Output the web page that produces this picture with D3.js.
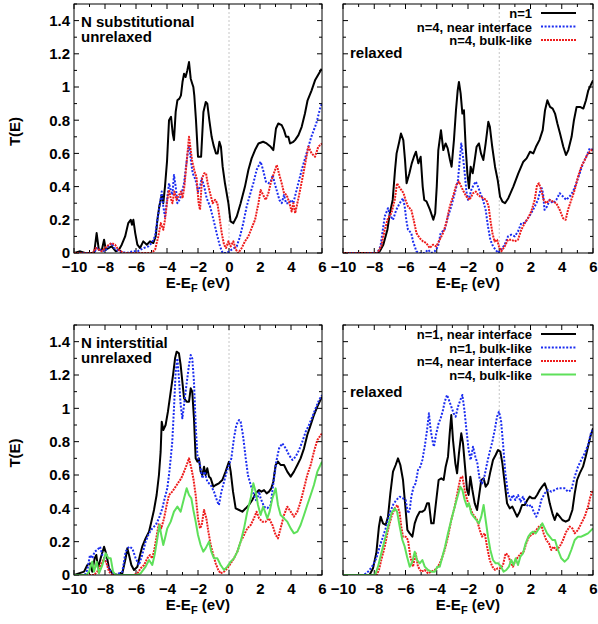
<!DOCTYPE html>
<html>
<head>
<meta charset="utf-8">
<script src="https://cdn.jsdelivr.net/npm/d3@7"></script>
<style>
  body { margin: 0; background: #fff; }
  text { font-family: "Liberation Sans", Arial, sans-serif; font-weight: bold; }
</style>
</head>
<body>
<svg id="chart" width="598" height="624"></svg>
<script>
// ---- data: [E - E_F (eV), T(E)] ----
const subUnrelN1 = [[-10,0],[-9.6,0.01],[-9.3,0],[-8.7,0],[-8.54,0.12],[-8.4,0.02],[-8.2,0.02],[-8.06,0.08],[-7.95,0.02],[-7.57,0.04],[-7.3,0.01],[-7.1,0.02],[-6.92,0.05],[-6.7,0.1],[-6.5,0.18],[-6.34,0.2],[-6.26,0.17],[-6.17,0.2],[-6.05,0.12],[-5.91,0.05],[-5.74,0.03],[-5.53,0.07],[-5.3,0.05],[-5.1,0.07],[-4.88,0.06],[-4.73,0.1],[-4.62,0.2],[-4.5,0.28],[-4.34,0.35],[-4.24,0.3],[-4.13,0.4],[-4.0,0.55],[-3.87,0.8],[-3.74,0.82],[-3.63,0.72],[-3.55,0.68],[-3.44,0.85],[-3.33,0.92],[-3.2,0.93],[-3.1,0.95],[-3.0,1.03],[-2.9,1.08],[-2.8,1.06],[-2.69,1.1],[-2.58,1.15],[-2.47,1.05],[-2.37,1.02],[-2.3,1.0],[-2.24,0.95],[-2.13,0.8],[-2.0,0.58],[-1.8,0.58],[-1.65,0.85],[-1.5,0.91],[-1.4,0.9],[-1.27,0.8],[-1.12,0.7],[-1.0,0.65],[-0.84,0.6],[-0.73,0.6],[-0.62,0.67],[-0.52,0.64],[-0.41,0.52],[-0.26,0.42],[-0.04,0.3],[0.1,0.19],[0.28,0.18],[0.5,0.22],[0.75,0.3],[1.03,0.4],[1.25,0.5],[1.46,0.57],[1.68,0.62],[1.9,0.66],[2.2,0.67],[2.43,0.66],[2.69,0.64],[2.86,0.62],[3.03,0.75],[3.18,0.78],[3.4,0.77],[3.55,0.74],[3.68,0.7],[3.83,0.7],[3.94,0.66],[4.15,0.67],[4.26,0.68],[4.48,0.71],[4.69,0.76],[4.9,0.84],[5.07,0.92],[5.33,0.98],[5.55,1.04],[5.98,1.11]];
const subUnrelN4Int = [[-10,0],[-8.7,0],[-8.54,0.03],[-8.35,0.02],[-8.0,0.01],[-7.68,0.05],[-7.57,0.06],[-7.4,0.03],[-7.1,0.01],[-6.6,0],[-6.2,0.01],[-5.9,0.01],[-5.5,0.03],[-5.2,0.04],[-5.0,0.06],[-4.77,0.1],[-4.62,0.2],[-4.45,0.3],[-4.34,0.37],[-4.24,0.28],[-4.13,0.22],[-4.02,0.3],[-3.87,0.42],[-3.76,0.38],[-3.65,0.35],[-3.55,0.47],[-3.44,0.4],[-3.33,0.3],[-3.2,0.32],[-3.05,0.36],[-2.9,0.42],[-2.8,0.5],[-2.67,0.6],[-2.56,0.65],[-2.45,0.55],[-2.34,0.48],[-2.2,0.45],[-2.1,0.42],[-2.0,0.37],[-1.87,0.4],[-1.76,0.45],[-1.6,0.4],[-1.44,0.33],[-1.22,0.28],[-1.0,0.2],[-0.8,0.12],[-0.58,0.04],[-0.41,0],[-0.15,0],[0.17,0.02],[0.5,0.04],[0.71,0.1],[0.92,0.18],[1.14,0.28],[1.35,0.35],[1.57,0.42],[1.78,0.5],[2.04,0.55],[2.2,0.5],[2.38,0.43],[2.54,0.42],[2.69,0.43],[2.82,0.47],[2.95,0.42],[3.1,0.37],[3.25,0.32],[3.4,0.3],[3.55,0.35],[3.68,0.3],[3.83,0.3],[4.04,0.32],[4.15,0.3],[4.36,0.38],[4.69,0.5],[5.0,0.6],[5.31,0.7],[5.63,0.78],[5.9,0.88],[6,0.9]];
const subUnrelN4Bulk = [[-10,0],[-8.8,0],[-8.6,0.03],[-8.4,0.02],[-8.2,0.01],[-7.9,0.04],[-7.57,0.06],[-7.35,0.05],[-7.14,0.02],[-6.8,0],[-5.0,0],[-4.77,0.02],[-4.56,0.1],[-4.4,0.18],[-4.24,0.14],[-4.13,0.2],[-3.98,0.32],[-3.87,0.38],[-3.76,0.33],[-3.65,0.3],[-3.53,0.37],[-3.38,0.32],[-3.22,0.35],[-3.1,0.37],[-3.0,0.33],[-2.88,0.4],[-2.73,0.55],[-2.58,0.7],[-2.47,0.62],[-2.37,0.55],[-2.24,0.5],[-2.09,0.45],[-1.96,0.3],[-1.87,0.26],[-1.74,0.45],[-1.6,0.48],[-1.48,0.48],[-1.38,0.42],[-1.22,0.36],[-1.05,0.3],[-0.9,0.32],[-0.75,0.3],[-0.62,0.22],[-0.47,0.12],[-0.32,0.05],[-0.19,0.03],[-0.04,0.07],[0.11,0.04],[0.28,0.07],[0.45,0.02],[0.6,0],[0.82,0.03],[1.03,0.07],[1.25,0.1],[1.46,0.15],[1.68,0.2],[1.9,0.3],[2.04,0.38],[2.2,0.35],[2.37,0.32],[2.54,0.36],[2.69,0.42],[2.86,0.47],[3.08,0.53],[3.25,0.47],[3.4,0.42],[3.55,0.36],[3.72,0.35],[3.9,0.3],[4.04,0.25],[4.15,0.3],[4.27,0.24],[4.48,0.33],[4.8,0.48],[5.12,0.64],[5.33,0.6],[5.55,0.58],[5.76,0.64],[6,0.66]];

const subRelN1 = [[-10,0],[-7.8,0],[-7.65,0.01],[-7.42,0.05],[-7.16,0.14],[-7.0,0.24],[-6.82,0.32],[-6.67,0.5],[-6.57,0.6],[-6.4,0.67],[-6.29,0.72],[-6.14,0.68],[-6.03,0.56],[-5.93,0.42],[-5.75,0.48],[-5.6,0.54],[-5.46,0.58],[-5.33,0.61],[-5.18,0.54],[-5.03,0.58],[-4.9,0.4],[-4.8,0.32],[-4.65,0.31],[-4.43,0.26],[-4.22,0.2],[-4.1,0.24],[-4.0,0.4],[-3.9,0.62],[-3.73,0.74],[-3.58,0.62],[-3.43,0.66],[-3.3,0.63],[-3.15,0.56],[-3.05,0.52],[-2.9,0.68],[-2.77,0.86],[-2.66,0.98],[-2.58,1.03],[-2.47,0.96],[-2.36,0.84],[-2.26,0.86],[-2.15,0.64],[-2.04,0.48],[-1.94,0.39],[-1.83,0.52],[-1.7,0.48],[-1.6,0.54],[-1.45,0.64],[-1.3,0.66],[-1.17,0.6],[-1.02,0.56],[-0.87,0.66],[-0.7,0.79],[-0.6,0.76],[-0.45,0.64],[-0.27,0.52],[-0.1,0.44],[0.05,0.34],[0.2,0.31],[0.37,0.3],[0.58,0.33],[0.9,0.4],[1.22,0.48],[1.54,0.55],[1.75,0.57],[1.97,0.61],[2.18,0.6],[2.35,0.64],[2.57,0.68],[2.78,0.74],[2.93,0.86],[3.08,0.92],[3.25,0.88],[3.42,0.87],[3.57,0.84],[3.72,0.78],[3.89,0.72],[4.1,0.64],[4.27,0.59],[4.42,0.62],[4.63,0.7],[4.78,0.8],[4.95,0.88],[5.17,0.88],[5.38,0.87],[5.55,0.92],[5.7,0.98],[5.9,1.02],[6,1.04]];
const subRelN4Int = [[-10,0],[-7.8,0],[-7.6,0.04],[-7.45,0.14],[-7.33,0.22],[-7.12,0.27],[-7.0,0.23],[-6.8,0.2],[-6.59,0.26],[-6.37,0.3],[-6.16,0.33],[-6.05,0.28],[-5.95,0.2],[-5.84,0.14],[-5.63,0.12],[-5.52,0.07],[-5.3,0.01],[-5.1,0],[-4.77,0],[-4.56,0.02],[-4.35,0],[-4.13,0.01],[-3.92,0.04],[-3.75,0.12],[-3.5,0.14],[-3.28,0.22],[-3.07,0.28],[-2.85,0.36],[-2.64,0.44],[-2.53,0.56],[-2.43,0.66],[-2.32,0.58],[-2.21,0.48],[-2.1,0.37],[-2.0,0.32],[-1.9,0.34],[-1.79,0.38],[-1.64,0.41],[-1.5,0.43],[-1.36,0.4],[-1.21,0.36],[-1.04,0.32],[-0.87,0.26],[-0.72,0.16],[-0.57,0.08],[-0.4,0.04],[-0.23,0.02],[-0.08,0],[0.13,0.02],[0.35,0.05],[0.56,0.1],[0.77,0.11],[0.99,0.1],[1.2,0.13],[1.41,0.18],[1.63,0.18],[1.84,0.21],[2.05,0.24],[2.27,0.28],[2.48,0.32],[2.69,0.4],[2.8,0.36],[2.9,0.26],[3.06,0.28],[3.23,0.32],[3.44,0.3],[3.65,0.32],[3.87,0.36],[4.08,0.34],[4.29,0.32],[4.5,0.34],[4.72,0.37],[4.93,0.42],[5.15,0.48],[5.36,0.54],[5.57,0.58],[5.79,0.63],[6,0.62]];
const subRelN4Bulk = [[-10,0],[-7.8,0],[-7.55,0.04],[-7.33,0.14],[-7.12,0.21],[-6.9,0.24],[-6.69,0.32],[-6.54,0.42],[-6.42,0.4],[-6.27,0.38],[-6.12,0.36],[-6.0,0.32],[-5.84,0.28],[-5.63,0.26],[-5.48,0.2],[-5.3,0.12],[-5.1,0.09],[-4.88,0.07],[-4.67,0.06],[-4.45,0.03],[-4.24,0.05],[-4.03,0.04],[-3.81,0.08],[-3.6,0.12],[-3.39,0.18],[-3.17,0.28],[-2.96,0.34],[-2.75,0.41],[-2.58,0.43],[-2.43,0.4],[-2.28,0.37],[-2.1,0.34],[-1.9,0.32],[-1.68,0.36],[-1.5,0.37],[-1.36,0.35],[-1.21,0.34],[-1.04,0.33],[-0.83,0.32],[-0.68,0.28],[-0.57,0.2],[-0.44,0.12],[-0.3,0.07],[-0.14,0.08],[-0.02,0.04],[0.13,0.01],[0.35,0.04],[0.56,0.08],[0.77,0.08],[0.99,0.07],[1.2,0.08],[1.41,0.14],[1.63,0.18],[1.84,0.21],[2.05,0.25],[2.27,0.32],[2.42,0.41],[2.54,0.42],[2.69,0.38],[2.84,0.32],[3.01,0.3],[3.23,0.32],[3.44,0.31],[3.65,0.3],[3.87,0.26],[4.08,0.21],[4.25,0.2],[4.4,0.26],[4.61,0.32],[4.83,0.38],[5.04,0.46],[5.25,0.52],[5.47,0.56],[5.68,0.6],[5.9,0.62],[6,0.63]];

const intUnrelN1Int = [[-10,0],[-9.35,0.02],[-9.14,0.06],[-8.97,0.07],[-8.82,0.02],[-8.67,0.1],[-8.56,0.12],[-8.45,0.04],[-8.28,0.1],[-8.06,0.17],[-7.9,0.12],[-7.74,0.04],[-7.53,0.01],[-7.2,0],[-6.88,0.01],[-6.67,0.1],[-6.56,0.16],[-6.45,0.12],[-6.3,0.06],[-6.13,0.03],[-5.91,0.05],[-5.74,0.12],[-5.6,0.17],[-5.38,0.22],[-5.16,0.26],[-5.01,0.32],[-4.84,0.39],[-4.67,0.48],[-4.52,0.6],[-4.41,0.74],[-4.34,0.92],[-4.24,0.87],[-4.09,0.9],[-3.94,0.98],[-3.76,1.1],[-3.61,1.2],[-3.48,1.3],[-3.38,1.34],[-3.23,1.33],[-3.12,1.26],[-3.01,1.16],[-2.9,1.06],[-2.73,1.04],[-2.58,1.04],[-2.47,1.12],[-2.37,1.1],[-2.26,0.94],[-2.15,0.7],[-2.04,0.68],[-1.94,0.7],[-1.83,0.62],[-1.72,0.6],[-1.61,0.65],[-1.51,0.6],[-1.4,0.64],[-1.29,0.59],[-1.18,0.58],[-1.01,0.53],[-0.86,0.54],[-0.65,0.55],[-0.43,0.57],[-0.22,0.62],[0,0.68],[0.11,0.62],[0.26,0.5],[0.43,0.4],[0.65,0.39],[0.86,0.38],[1.08,0.4],[1.29,0.42],[1.5,0.45],[1.72,0.49],[1.94,0.51],[2.09,0.5],[2.26,0.51],[2.43,0.49],[2.58,0.5],[2.73,0.52],[2.86,0.56],[3.01,0.66],[3.16,0.68],[3.33,0.66],[3.55,0.66],[3.76,0.62],[3.98,0.59],[4.19,0.62],[4.41,0.66],[4.62,0.7],[4.84,0.76],[5.05,0.84],[5.27,0.9],[5.48,0.96],[5.7,1.01],[6,1.07]];
const intUnrelN1Bulk = [[-10,0],[-9.3,0],[-9.14,0.03],[-8.97,0.12],[-8.82,0.1],[-8.67,0.14],[-8.5,0.15],[-8.32,0.17],[-8.17,0.12],[-8.02,0.1],[-7.85,0.06],[-7.63,0.02],[-7.31,0],[-6.88,0.02],[-6.67,0.14],[-6.45,0.17],[-6.24,0.16],[-6.02,0.1],[-5.81,0.06],[-5.6,0.12],[-5.38,0.2],[-5.16,0.25],[-4.95,0.28],[-4.73,0.3],[-4.52,0.34],[-4.3,0.4],[-4.15,0.46],[-3.98,0.52],[-3.87,0.6],[-3.76,0.7],[-3.66,0.8],[-3.55,1.0],[-3.44,1.22],[-3.33,1.3],[-3.23,1.18],[-3.12,1.02],[-3.01,0.94],[-2.9,1.02],[-2.8,1.1],[-2.69,1.18],[-2.58,1.26],[-2.47,1.32],[-2.37,1.3],[-2.26,1.16],[-2.15,0.9],[-2.04,0.72],[-1.87,0.66],[-1.72,0.58],[-1.57,0.62],[-1.4,0.56],[-1.18,0.54],[-0.97,0.5],[-0.75,0.44],[-0.65,0.42],[-0.49,0.5],[-0.32,0.56],[-0.15,0.62],[0,0.66],[0.15,0.7],[0.32,0.82],[0.47,0.9],[0.65,0.93],[0.75,0.92],[0.9,0.84],[1.08,0.7],[1.22,0.6],[1.4,0.54],[1.61,0.48],[1.78,0.44],[1.94,0.5],[2.04,0.46],[2.26,0.41],[2.47,0.4],[2.69,0.42],[2.9,0.58],[3.05,0.68],[3.23,0.76],[3.44,0.79],[3.66,0.76],[3.87,0.72],[4.09,0.69],[4.3,0.71],[4.52,0.75],[4.73,0.8],[4.95,0.86],[5.16,0.9],[5.38,0.95],[5.59,1.0],[5.81,1.05],[6,1.08]];
const intUnrelN4Int = [[-10,0],[-8.7,0],[-8.5,0.02],[-8.28,0.06],[-8.06,0.1],[-7.9,0.07],[-7.74,0.02],[-7.53,0],[-6.13,0],[-5.91,0.01],[-5.7,0.04],[-5.48,0.06],[-5.27,0.1],[-5.1,0.12],[-4.95,0.1],[-4.8,0.16],[-4.62,0.26],[-4.52,0.31],[-4.37,0.28],[-4.19,0.34],[-4.02,0.42],[-3.87,0.48],[-3.66,0.5],[-3.44,0.53],[-3.23,0.56],[-3.08,0.58],[-2.9,0.62],[-2.73,0.66],[-2.58,0.7],[-2.43,0.64],[-2.3,0.58],[-2.15,0.48],[-2.0,0.34],[-1.87,0.28],[-1.76,0.3],[-1.61,0.39],[-1.46,0.34],[-1.33,0.26],[-1.18,0.18],[-1.01,0.12],[-0.86,0.07],[-0.69,0.03],[-0.54,0.01],[-0.32,0.02],[-0.11,0.04],[0.11,0.07],[0.32,0.1],[0.54,0.14],[0.75,0.2],[0.97,0.24],[1.18,0.28],[1.4,0.3],[1.61,0.34],[1.78,0.38],[1.94,0.34],[2.15,0.32],[2.37,0.32],[2.58,0.34],[2.8,0.3],[3.01,0.24],[3.16,0.22],[3.33,0.28],[3.55,0.36],[3.76,0.41],[3.98,0.38],[4.19,0.35],[4.41,0.38],[4.62,0.44],[4.84,0.52],[5.05,0.6],[5.27,0.66],[5.48,0.74],[5.7,0.81],[6,0.85]];
const intUnrelN4Bulk = [[-10,0],[-9.2,0],[-9.03,0.02],[-8.82,0.08],[-8.71,0.02],[-8.54,0.08],[-8.39,0.01],[-8.17,0.06],[-7.96,0.13],[-7.78,0.1],[-7.63,0.1],[-7.48,0.02],[-7.31,0],[-5.9,0],[-5.7,0.01],[-5.38,0.05],[-5.16,0.09],[-4.95,0.06],[-4.8,0.12],[-4.62,0.22],[-4.49,0.3],[-4.37,0.24],[-4.24,0.18],[-4.13,0.22],[-3.98,0.28],[-3.76,0.32],[-3.55,0.38],[-3.33,0.41],[-3.12,0.38],[-2.9,0.46],[-2.73,0.52],[-2.58,0.48],[-2.43,0.46],[-2.3,0.39],[-2.15,0.32],[-2.0,0.24],[-1.83,0.18],[-1.66,0.14],[-1.51,0.16],[-1.29,0.2],[-1.14,0.14],[-0.97,0.1],[-0.75,0.1],[-0.54,0.06],[-0.32,0.03],[-0.11,0.05],[0.11,0.08],[0.32,0.1],[0.54,0.14],[0.75,0.2],[0.97,0.28],[1.18,0.38],[1.4,0.46],[1.57,0.55],[1.72,0.5],[1.87,0.42],[2.04,0.36],[2.2,0.41],[2.32,0.38],[2.47,0.34],[2.62,0.38],[2.8,0.46],[3.01,0.52],[3.16,0.42],[3.33,0.36],[3.55,0.34],[3.76,0.32],[3.98,0.28],[4.19,0.25],[4.41,0.26],[4.62,0.3],[4.84,0.36],[5.05,0.42],[5.27,0.48],[5.48,0.54],[5.7,0.62],[6,0.68]];

const intRelN1Int = [[-10,0],[-8.3,0],[-8.08,0.04],[-7.87,0.13],[-7.7,0.29],[-7.59,0.35],[-7.44,0.31],[-7.27,0.3],[-7.12,0.35],[-6.97,0.49],[-6.8,0.62],[-6.63,0.66],[-6.48,0.7],[-6.33,0.66],[-6.16,0.57],[-6.01,0.41],[-5.88,0.27],[-5.73,0.25],[-5.56,0.23],[-5.41,0.31],[-5.26,0.35],[-5.09,0.38],[-4.92,0.38],[-4.77,0.39],[-4.62,0.43],[-4.5,0.43],[-4.35,0.31],[-4.2,0.31],[-4.03,0.45],[-3.88,0.57],[-3.71,0.58],[-3.56,0.57],[-3.43,0.65],[-3.28,0.71],[-3.17,0.85],[-3.07,0.96],[-2.96,0.81],[-2.81,0.67],[-2.7,0.61],[-2.58,0.73],[-2.43,0.85],[-2.32,0.79],[-2.21,0.67],[-2.06,0.51],[-1.96,0.48],[-1.85,0.59],[-1.72,0.51],[-1.57,0.43],[-1.42,0.39],[-1.3,0.47],[-1.15,0.57],[-1.0,0.58],[-0.87,0.53],[-0.72,0.55],[-0.57,0.62],[-0.4,0.69],[-0.23,0.72],[-0.08,0.75],[0.07,0.74],[0.2,0.67],[0.35,0.55],[0.5,0.43],[0.67,0.4],[0.84,0.41],[0.99,0.38],[1.14,0.35],[1.31,0.38],[1.46,0.42],[1.63,0.42],[1.8,0.45],[1.95,0.47],[2.12,0.46],[2.27,0.46],[2.42,0.48],[2.59,0.51],[2.74,0.53],[2.91,0.55],[3.06,0.51],[3.23,0.43],[3.4,0.37],[3.55,0.33],[3.7,0.37],[3.87,0.35],[4.04,0.33],[4.25,0.32],[4.46,0.33],[4.68,0.39],[4.83,0.49],[4.98,0.57],[5.15,0.61],[5.36,0.65],[5.53,0.71],[5.68,0.77],[5.83,0.83],[6,0.88]];
const intRelN1Bulk = [[-10,0],[-8.7,0],[-8.5,0.01],[-8.3,0.03],[-8.08,0.06],[-7.87,0.1],[-7.65,0.17],[-7.44,0.23],[-7.23,0.29],[-7.01,0.37],[-6.8,0.42],[-6.59,0.45],[-6.37,0.47],[-6.16,0.46],[-5.99,0.45],[-5.84,0.37],[-5.73,0.39],[-5.63,0.47],[-5.48,0.53],[-5.35,0.55],[-5.2,0.63],[-5.05,0.65],[-4.92,0.69],[-4.77,0.77],[-4.62,0.87],[-4.5,0.97],[-4.39,0.87],[-4.28,0.81],[-4.18,0.77],[-4.03,0.85],[-3.88,0.91],[-3.75,0.94],[-3.6,0.99],[-3.49,1.04],[-3.34,1.08],[-3.22,1.05],[-3.07,1.01],[-2.92,0.97],[-2.79,0.95],[-2.64,1.01],[-2.49,1.05],[-2.36,1.08],[-2.23,0.99],[-2.1,0.87],[-1.96,0.75],[-1.83,0.69],[-1.68,0.77],[-1.53,0.71],[-1.4,0.67],[-1.25,0.57],[-1.1,0.55],[-0.95,0.59],[-0.78,0.67],[-0.61,0.74],[-0.44,0.8],[-0.29,0.87],[-0.14,0.95],[-0.02,0.98],[0.11,0.93],[0.24,0.79],[0.39,0.61],[0.56,0.49],[0.73,0.45],[0.88,0.48],[1.03,0.45],[1.2,0.48],[1.37,0.44],[1.52,0.47],[1.69,0.43],[1.86,0.41],[2.05,0.42],[2.2,0.38],[2.37,0.35],[2.54,0.39],[2.69,0.45],[2.91,0.49],[3.12,0.51],[3.33,0.5],[3.55,0.51],[3.76,0.52],[3.97,0.52],[4.19,0.52],[4.4,0.5],[4.61,0.51],[4.83,0.59],[5.04,0.65],[5.25,0.69],[5.47,0.73],[5.68,0.78],[5.89,0.86],[6,0.87]];
const intRelN4Int = [[-10,0],[-7.85,0],[-7.7,0.03],[-7.55,0.09],[-7.33,0.17],[-7.12,0.27],[-6.9,0.35],[-6.69,0.4],[-6.52,0.42],[-6.37,0.37],[-6.27,0.29],[-6.16,0.23],[-5.99,0.23],[-5.84,0.21],[-5.69,0.11],[-5.52,0.05],[-5.35,0.13],[-5.2,0.05],[-4.99,0.02],[-4.77,0.03],[-4.56,0.01],[-4.35,0.02],[-4.13,0.03],[-3.92,0.05],[-3.71,0.09],[-3.49,0.15],[-3.28,0.23],[-3.07,0.33],[-2.85,0.41],[-2.64,0.51],[-2.49,0.58],[-2.36,0.59],[-2.21,0.51],[-2.06,0.45],[-1.89,0.41],[-1.72,0.37],[-1.57,0.35],[-1.42,0.33],[-1.25,0.27],[-1.1,0.23],[-0.93,0.25],[-0.78,0.17],[-0.61,0.09],[-0.44,0.05],[-0.27,0.03],[-0.1,0.04],[0.07,0.04],[0.24,0.06],[0.41,0.13],[0.56,0.12],[0.71,0.08],[0.88,0.05],[1.05,0.09],[1.22,0.11],[1.39,0.13],[1.56,0.14],[1.73,0.19],[1.9,0.23],[2.05,0.24],[2.2,0.25],[2.37,0.27],[2.54,0.29],[2.69,0.3],[2.84,0.25],[3.01,0.21],[3.18,0.19],[3.33,0.15],[3.48,0.17],[3.65,0.15],[3.87,0.17],[4.08,0.21],[4.29,0.26],[4.51,0.29],[4.68,0.28],[4.83,0.25],[5.04,0.27],[5.25,0.31],[5.47,0.35],[5.68,0.41],[5.83,0.47],[6,0.51]];
const intRelN4Bulk = [[-10,0],[-7.95,0],[-7.76,0.05],[-7.55,0.13],[-7.33,0.21],[-7.12,0.29],[-6.9,0.37],[-6.69,0.4],[-6.54,0.38],[-6.37,0.29],[-6.2,0.21],[-6.05,0.17],[-5.9,0.11],[-5.73,0.05],[-5.56,0.08],[-5.41,0.14],[-5.26,0.09],[-5.09,0.07],[-4.92,0.09],[-4.77,0.05],[-4.56,0.03],[-4.35,0.02],[-4.13,0.02],[-3.96,0.05],[-3.81,0.05],[-3.64,0.11],[-3.47,0.17],[-3.28,0.25],[-3.07,0.33],[-2.85,0.41],[-2.64,0.48],[-2.49,0.53],[-2.36,0.51],[-2.21,0.45],[-2.06,0.41],[-1.94,0.43],[-1.79,0.37],[-1.64,0.35],[-1.47,0.33],[-1.3,0.31],[-1.15,0.35],[-1.0,0.42],[-0.87,0.33],[-0.72,0.23],[-0.57,0.15],[-0.4,0.09],[-0.23,0.07],[-0.06,0.07],[0.11,0.05],[0.28,0.02],[0.45,0.03],[0.62,0.05],[0.77,0.09],[0.92,0.06],[1.05,0.1],[1.2,0.06],[1.35,0.11],[1.52,0.13],[1.69,0.19],[1.86,0.23],[2.01,0.25],[2.16,0.26],[2.33,0.25],[2.48,0.27],[2.63,0.29],[2.76,0.31],[2.91,0.28],[3.06,0.25],[3.23,0.23],[3.4,0.21],[3.57,0.21],[3.76,0.15],[3.97,0.1],[4.19,0.08],[4.4,0.1],[4.61,0.15],[4.83,0.21],[5.04,0.23],[5.25,0.23],[5.47,0.24],[5.68,0.25],[6,0.28]];

const xTicks = [-10, -8, -6, -4, -2, 0, 2, 4, 6];
const yTicks = [0, 0.2, 0.4, 0.6, 0.8, 1, 1.2, 1.4];
const legendTop = ['n=1', 'n=4, near interface', 'n=4, bulk-like'];
const legendBottom = ['n=1, near interface', 'n=1, bulk-like', 'n=4, near interface', 'n=4, bulk-like'];

// line styles (gnuplot-like)
const styles = {
  black: {stroke: '#000000', dash: null},
  blue:  {stroke: '#1a2cf0', dash: '2,1.6'},
  red:   {stroke: '#ee1c1c', dash: '2,1'},
  green: {stroke: '#5ee05a', dash: null}
};

const panels = [
  {x0: 74,  y0: 4,   w: 248, h: 249, yLabels: true,  title: ['N substitutional', 'unrelaxed'],
   series: [[subUnrelN1, 'black'], [subUnrelN4Int, 'blue'], [subUnrelN4Bulk, 'red']]},
  {x0: 343, y0: 4,   w: 250, h: 249, yLabels: false, title: [], tag: 'relaxed', tagY: 58, legend: legendTop,
   series: [[subRelN1, 'black'], [subRelN4Int, 'blue'], [subRelN4Bulk, 'red']]},
  {x0: 74,  y0: 325, w: 248, h: 250, yLabels: true,  title: ['N interstitial', 'unrelaxed'],
   series: [[intUnrelN1Int, 'black'], [intUnrelN1Bulk, 'blue'], [intUnrelN4Int, 'red'], [intUnrelN4Bulk, 'green']]},
  {x0: 343, y0: 325, w: 250, h: 250, yLabels: false, title: [], tag: 'relaxed', tagY: 397, legend: legendBottom,
   series: [[intRelN1Int, 'black'], [intRelN1Bulk, 'blue'], [intRelN4Int, 'red'], [intRelN4Bulk, 'green']]}
];

const svg = d3.select('#chart');

panels.forEach((p, i) => {
  const x = d3.scaleLinear().domain([-10, 6]).range([0, p.w]);
  const y = d3.scaleLinear().domain([0, 1.5]).range([p.h, 0]);

  const g = svg.append('g').attr('transform', `translate(${p.x0},${p.y0})`);

  g.append('clipPath').attr('id', 'clip' + i)
    .append('rect').attr('width', p.w).attr('height', p.h);

  // zero energy marker
  g.append('line')
    .attr('x1', x(0)).attr('x2', x(0)).attr('y1', 0).attr('y2', p.h)
    .attr('stroke', '#b8b8b8').attr('stroke-width', 0.8).attr('stroke-dasharray', '2,2');

  // inside ticks on all four sides
  const tickG = g.append('g').attr('stroke', '#000').attr('stroke-width', 1);
  d3.range(-10, 6.01, 1).forEach(v => {
    const len = (v % 2 === 0) ? 5 : 3;
    tickG.append('line').attr('x1', x(v)).attr('x2', x(v)).attr('y1', p.h).attr('y2', p.h - len);
    tickG.append('line').attr('x1', x(v)).attr('x2', x(v)).attr('y1', 0).attr('y2', len);
  });
  d3.range(0, 1.501, 0.1).forEach((v, k) => {
    const len = (k % 2 === 0) ? 5 : 3;
    tickG.append('line').attr('x1', 0).attr('x2', len).attr('y1', y(v)).attr('y2', y(v));
    tickG.append('line').attr('x1', p.w).attr('x2', p.w - len).attr('y1', y(v)).attr('y2', y(v));
  });

  // tick labels via d3 axes (tick marks hidden, drawn above)
  const xAxis = g.append('g').attr('transform', `translate(0,${p.h})`)
    .call(d3.axisBottom(x).tickValues(xTicks).tickSize(0).tickPadding(8).tickFormat(d3.format('d')));
  xAxis.select('.domain').remove();
  xAxis.selectAll('text').attr('font-size', 15).attr('fill', '#000')
    .attr('font-family', '"Liberation Sans", Arial, sans-serif').attr('font-weight', 'bold');

  if (p.yLabels) {
    const yAxis = g.append('g')
      .call(d3.axisLeft(y).tickValues(yTicks).tickSize(0).tickPadding(4).tickFormat(d => d3.format('')(+d.toFixed(1))));
    yAxis.select('.domain').remove();
    yAxis.selectAll('text').attr('font-size', 15).attr('fill', '#000')
      .attr('font-family', '"Liberation Sans", Arial, sans-serif').attr('font-weight', 'bold');

    g.append('text')
      .attr('transform', `translate(${20 - p.x0},${p.h / 2 + 3}) rotate(-90)`)
      .attr('text-anchor', 'middle').attr('font-size', 15).text('T(E)');
  }

  // x axis title E-E_F (eV)
  const xt = g.append('text').attr('x', p.w / 2).attr('y', p.h + 35)
    .attr('text-anchor', 'middle').attr('font-size', 15);
  xt.append('tspan').text('E-E');
  xt.append('tspan').attr('font-size', 11).attr('dy', 4).text('F');
  xt.append('tspan').attr('dy', -4).text(' (eV)');

  // curves
  const line = d3.line().x(d => x(d[0])).y(d => y(d[1]));
  const curves = g.append('g').attr('clip-path', `url(#clip${i})`);
  p.series.forEach(([data, st]) => {
    curves.append('path').datum(data)
      .attr('d', line)
      .attr('fill', 'none')
      .attr('stroke', styles[st].stroke)
      .attr('stroke-width', 2)
      .attr('stroke-linejoin', 'round')
      .attr('stroke-dasharray', styles[st].dash);
  });

  // frame
  g.append('rect').attr('width', p.w).attr('height', p.h)
    .attr('fill', 'none').attr('stroke', '#000').attr('stroke-width', 1);

  // panel captions
  p.title.forEach((t, k) => {
    g.append('text').attr('x', 7).attr('y', 23 + 15 * k).attr('font-size', 15).text(t);
  });
  if (p.tag) {
    g.append('text').attr('x', 7).attr('y', p.tagY - p.y0).attr('font-size', 15).text(p.tag);
  }

  // legend
  if (p.legend) {
    p.legend.forEach((label, k) => {
      const ly = 9 + 13.5 * k;
      g.append('text').attr('x', 189).attr('y', ly + 5)
        .attr('text-anchor', 'end').attr('font-size', 13).text(label);
      const st = styles[p.series[k][1]];
      g.append('line').attr('x1', 198).attr('x2', 233).attr('y1', ly).attr('y2', ly)
        .attr('stroke', st.stroke).attr('stroke-width', 2)
        .attr('stroke-dasharray', st.dash);
    });
  }
});
</script>
</body>
</html>
